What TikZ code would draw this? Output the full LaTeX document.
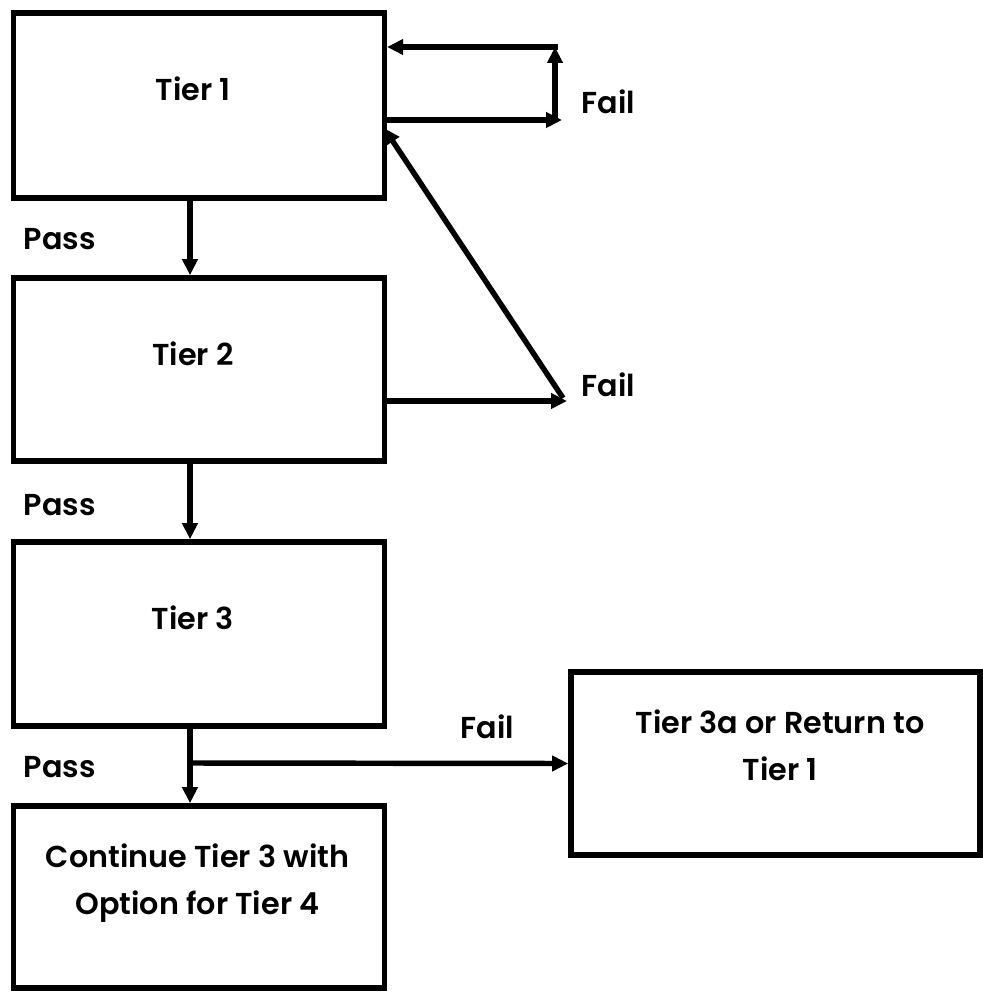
\documentclass[tikz,border=0pt]{standalone}
\usepackage{fontspec}
\newfontfamily\diagfont{Poppins SemiBold}
\usetikzlibrary{arrows.meta}

\begin{document}
\begin{tikzpicture}[x=0.01cm, y=-0.01cm,
  box/.style={draw, line width=1.55pt, rectangle, inner sep=0pt, minimum width=3.705cm},
  arr/.style={line width=1.55pt, -{Triangle[length=1.6mm, width=1.5mm]}},
  txt/.style={font=\fontsize{8.6}{13.4}\selectfont\diagfont, inner sep=0pt, align=center},
  lbl/.style={font=\fontsize{8.6}{13.4}\selectfont\diagfont, inner sep=0pt, anchor=base west}]
\useasboundingbox (0,0) rectangle (983,992);

% tier boxes
\node[box, minimum height=1.85cm] (t1) at (199,105.5) {};
\node[box, minimum height=1.83cm] (t2) at (199,369.5) {};
\node[box, minimum height=1.84cm] (t3) at (199,634) {};
\node[box, minimum height=1.82cm] (t4) at (199,897) {};
\node[box, minimum width=4.09cm, minimum height=1.83cm] (t3a) at (775.5,763.5) {};

% box texts (base anchor of a two-line node sits on its last line)
\node[txt, anchor=base] (t1l) at ([xshift=-0.06cm,yshift=-0.90cm]t1.north) {Tier 1};
\node[txt, anchor=base] (t2l) at ([xshift=-0.06cm,yshift=-0.90cm]t2.north) {Tier 2};
\node[txt, anchor=base] (t3l) at ([xshift=-0.06cm,yshift=-0.90cm]t3.north) {Tier 3};
\node[txt, anchor=base] (t4l) at ([xshift=-0.015cm,yshift=-1.11cm]t4.north) {Continue Tier 3 with\\Option for Tier 4};
\node[txt, anchor=base] (t3al) at ([xshift=0.045cm,yshift=-1.11cm]t3a.north) {Tier 3a or Return to\\Tier 1};

% pass / fail labels
\node[lbl] (p1) at (23,250) {Pass};
\node[lbl] (p2) at (23,515) {Pass};
\node[lbl] (p3) at (23,777) {Pass};
\node[lbl] (f1) at (581,114) {Fail};
\node[lbl] (f2) at (581,397) {Fail};
\node[lbl] (f3) at (460,738) {Fail};

% helper points for the fail loops
\coordinate (lb) at (562,120);
\coordinate (lc) at (555,120);
\coordinate (lt) at (555,47);
\coordinate (f2e) at (567,401);
\coordinate (f2d) at (563,398);
\coordinate (f2t) at (384,128);
\coordinate (br) at (190,763);

% pass arrows
\draw[arr] ([xshift=-0.09cm]t1.south) -- ([xshift=-0.09cm]t2.north);
\draw[arr] ([xshift=-0.09cm]t2.south) -- ([xshift=-0.09cm]t3.north);
\draw[arr] ([xshift=-0.09cm]t3.south) -- ([xshift=-0.09cm]t4.north);

% tier 1 fail loop
\draw[arr] (t1.east |- lb) -- (lb);
\draw[arr] (lc) -- (lt);
\draw[arr] ([xshift=0.0275cm]lt) -- (t1.east |- lt);

% tier 2 fail back to tier 1
\draw[arr] (t2.east |- f2e) -- (f2e);
\draw[arr] (f2d) -- (f2t);

% tier 3 fail branch
\draw[arr] (br) -- (t3a.west);
\end{tikzpicture}
\end{document}
